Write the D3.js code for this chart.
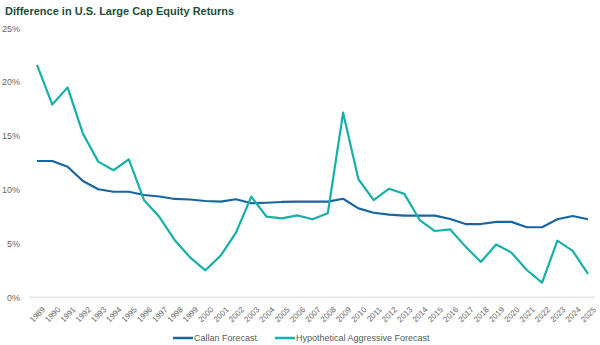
<!DOCTYPE html>
<html><head><meta charset="utf-8">
<script src="https://cdn.jsdelivr.net/npm/d3@7"></script>
<style>body{margin:0;background:#fff}svg{display:block;font-family:Arial,"Liberation Sans",sans-serif}</style>
</head><body><svg id="c" width="600" height="345"></svg>
<script>
const years = d3.range(1989, 2026).map(String);
const callan = [12.66,12.66,12.13,10.8,10.03,9.8,9.8,9.5,9.36,9.13,9.08,8.94,8.88,9.1,8.73,8.78,8.85,8.88,8.88,8.88,9.15,8.26,7.85,7.67,7.58,7.58,7.58,7.27,6.8,6.8,7.0,7.0,6.5,6.5,7.24,7.55,7.24];
const aggressive = [21.6,17.9,19.5,15.2,12.6,11.8,12.8,9.0,7.45,5.3,3.7,2.5,3.86,6.0,9.34,7.48,7.33,7.6,7.24,7.8,17.15,10.96,9.03,10.08,9.6,7.17,6.15,6.3,4.7,3.27,4.9,4.14,2.53,1.35,5.25,4.3,2.16];
const yTicks = [0,5,10,15,20,25];
const seriesNames = ["Callan Forecast","Hypothetical Aggressive Forecast"];
const colors = ["#1766a0","#17b0a8"];

const svg = d3.select("#c");
svg.append("text").attr("x",5).attr("y",15).attr("fill","#1d4d3c")
  .attr("font-size",11).attr("font-weight","bold").text("Difference in U.S. Large Cap Equity Returns");

const x = d3.scalePoint().domain(years).range([37,588]);
const y = d3.scaleLinear().domain([0,25]).range([297.2,28.2]);

svg.append("line").attr("x1",29).attr("x2",595).attr("y1",y(0)).attr("y2",y(0))
  .attr("stroke","#d9d9d9").attr("stroke-width",1);

const ya = svg.append("g").attr("transform","translate(23,0)")
  .call(d3.axisLeft(y).tickValues(yTicks).tickSize(0).tickFormat(d=>d+"%"));
ya.select(".domain").remove();
ya.selectAll("text").attr("fill","#666").attr("font-size",9).attr("font-family","Arial,'Liberation Sans',sans-serif").attr("dx",0).attr("text-anchor","end");

const xa = svg.append("g").attr("transform","translate(0,300)")
  .call(d3.axisBottom(x).tickSize(0));
xa.select(".domain").remove();
xa.selectAll("text").attr("fill","#666").attr("font-size",8).attr("font-family","Arial,'Liberation Sans',sans-serif")
  .attr("text-anchor","end").attr("dy","0.35em").attr("dx",0)
  .attr("transform","translate(4,6) rotate(-45)");

const line = d3.line().x((d,i)=>x(years[i])).y(d=>y(d));
[callan, aggressive].forEach((s,k)=>{
  svg.append("path").datum(s).attr("d",line).attr("fill","none")
    .attr("stroke",colors[k]).attr("stroke-width",2.2).attr("stroke-linejoin","round");
});

const legX = [173,275];
seriesNames.forEach((n,k)=>{
  svg.append("line").attr("x1",legX[k]).attr("x2",legX[k]+20).attr("y1",338).attr("y2",338)
    .attr("stroke",colors[k]).attr("stroke-width",2.5);
  svg.append("text").attr("x",legX[k]+21).attr("y",341).attr("font-size",9).attr("fill","#595959").text(n);
});
</script></body></html>
